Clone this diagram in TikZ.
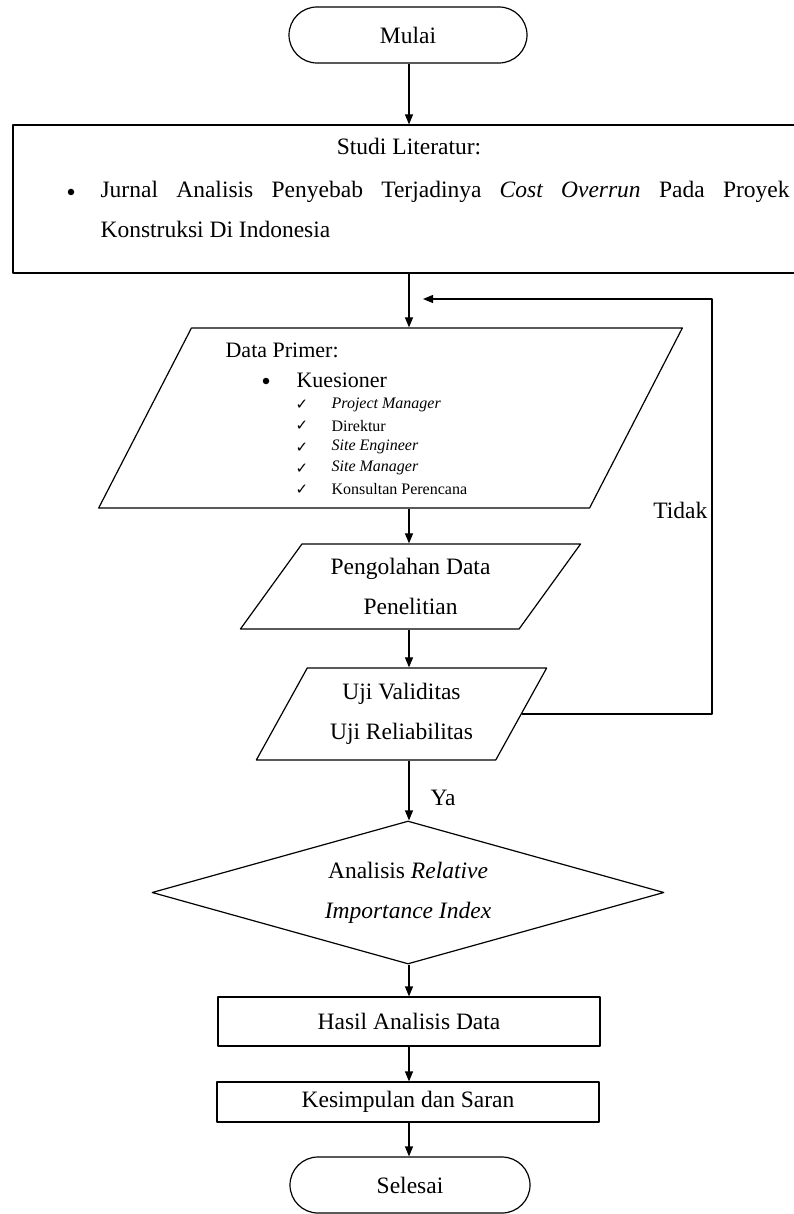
\documentclass[tikz,border=0pt]{standalone}
\usepackage{fontspec}
\setmainfont{Liberation Serif}
\newfontfamily\symfont{DejaVu Sans}
\usetikzlibrary{shapes.geometric,arrows.meta}

\tikzset{
  txt/.style={inner sep=0pt, font=\fontsize{23.5}{40}\selectfont},
  terminal/.style={draw, rectangle, rounded corners=28pt, minimum width=238pt, minimum height=56pt, txt},
  process/.style={draw, rectangle, minimum width=382pt, txt},
  io/.style={draw, trapezium, trapezium stretches=true, inner sep=2pt, align=center, txt},
  decision/.style={draw, diamond, shape aspect=3.58, inner sep=0pt, align=center, txt},
  dot/.style={circle, fill, inner sep=0pt, minimum size=6.5pt},
  item/.style={anchor=west, inner sep=0pt, font=\fontsize{16}{20}\selectfont},
  tick/.style={inner sep=0pt, font=\symfont\fontsize{15}{17}\selectfont}
}

\begin{document}
\begin{tikzpicture}[x=1pt, y=1pt, line width=1.2pt, line join=round, >={Triangle[length=10pt,width=8pt]}]
  \useasboundingbox (0,0) rectangle (794,-1214);
  \coordinate (spine) at (409,0);

  % start
  \node[terminal] (mulai) at (408,-35) {Mulai};

  % literatur
  \node[draw, rectangle, minimum width=786pt, minimum height=148pt] (studi) at (406,-199) {};
  \node[txt] (studihead) at (409,-147) {Studi Literatur:};
  \node[dot] (studibul) at (71,-192) {};
  \node[txt, anchor=base west, text width=689pt, align=justify] (studitxt) at (100,-198)
    {Jurnal Analisis Penyebab Terjadinya \textit{Cost Overrun} Pada Proyek\linebreak Konstruksi Di Indonesia};

  % data primer
  \node[io, trapezium left angle=56.5, trapezium right angle=123.5, minimum width=587pt, minimum height=180pt] (primer) at (390.5,-418) {\phantom{Data}};
  \node[txt, anchor=west, font=\fontsize{22}{26}\selectfont] (dphead) at (225,-350) {Data Primer:};
  \node[dot] (dpbul) at (266,-381) {};
  \node[txt, anchor=west, font=\fontsize{22}{26}\selectfont] (kues) at (296,-380) {Kuesioner};
  \foreach \t [count=\i] in {\textit{Project Manager}, Direktur, \textit{Site Engineer}, \textit{Site Manager}, Konsultan Perencana} {
    \node[tick] (chk\i) at (302,{-384-21.1*\i}) {✓};
    \node[item] (resp\i) at (331,{-384-21.1*\i}) {\t};
  }

  % pengolahan & uji
  \node[io, trapezium left angle=51.3, trapezium right angle=128.7, minimum width=341pt, minimum height=85pt] (olah) at (410.5,-586.5) {Pengolahan Data\\Penelitian};
  \node[io, trapezium left angle=57.8, trapezium right angle=122.2, minimum width=291pt, minimum height=92pt] (uji) at (401.5,-714) {Uji Validitas\\Uji Reliabilitas};

  % analisis
  \node[decision, minimum width=512pt, minimum height=143pt] (rii) at (408,-892.5) {Analisis \textit{Relative}\\\textit{Importance Index}};
  \node[process, minimum height=49pt] (hasil) at (409,-1021.5) {Hasil Analisis Data};
  \node[process, minimum height=40pt] (simpul) at (408,-1102) {Kesimpulan dan Saran};
  \node[terminal, minimum width=240pt] (selesai) at (410,-1185) {Selesai};

  % arrows
  \draw[->] (mulai.south -| spine) -- (studi.north -| spine);
  \draw[->] (studi.south -| spine) -- (primer.north -| spine);
  \draw[->] (primer.south -| spine) -- (olah.north -| spine);
  \draw[->] (olah.south -| spine) -- (uji.north -| spine);
  \draw[->] (uji.south -| spine) -- (rii.north -| spine);
  \draw[->] (rii.south -| spine) -- (hasil.north -| spine);
  \draw[->] (hasil.south -| spine) -- (simpul.north -| spine);
  \draw[->] (simpul.south -| spine) -- (selesai.north -| spine);

  % loop back
  \coordinate (tidakup) at (712,-299);
  \coordinate (tidakend) at (423,-299);
  \draw[->] (uji.east) -| (tidakup) -- (tidakend);
  \node[txt, anchor=east] (tidak) at (708,-510) {Tidak};
  \node[txt, anchor=west] (ya) at (430,-798) {Ya};
\end{tikzpicture}
\end{document}
